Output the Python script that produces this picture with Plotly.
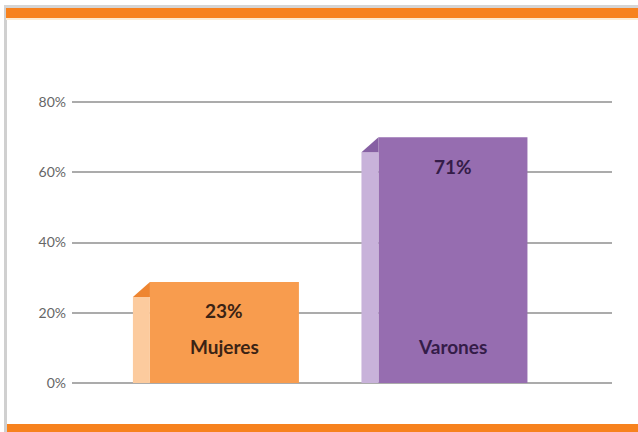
import plotly.graph_objects as go

categories = ["Mujeres", "Varones"]
bar_heights = [28.75, 70.0]        # front-face height (%)
value_labels = ["23%", "71%"]
tick_vals = [0, 20, 40, 60, 80]
tick_text = ["0%", "20%", "40%", "60%", "80%"]

front_colors = ["#F89C4E", "#966DB0"]
side_colors = ["#FCCB9E", "#C8B2DA"]
corner_colors = ["#EE8530", "#8660A3"]
text_colors = ["#3B2314", "#341C48"]

# layout geometry (pixel positions of y=-2 .. y=82)
W, H = 638, 432
y_lo, y_hi = -2, 82
px_per_y = (383 - 102) / 80
T = 102 - (y_hi - 80) * px_per_y
B = H - (383 + (0 - y_lo) * px_per_y)
L, R = 72, 26
plot_w = W - L - R
plot_h = H - T - B
x0, x1 = -0.667, 1.696
px_per_x = plot_w / (x1 - x0)
front_w = 149 / px_per_x
side_w = 17 / px_per_x
depth = 15 / px_per_y

xs = list(range(len(categories)))
fig = go.Figure()

# front faces
fig.add_trace(go.Bar(x=xs, y=bar_heights, width=front_w,
                     marker=dict(color=front_colors, line=dict(width=0)),
                     hoverinfo="skip", showlegend=False))
# side faces
side_x = [x - front_w / 2 - side_w / 2 for x in xs]
side_h = [h - depth for h in bar_heights]
fig.add_trace(go.Bar(x=side_x, y=side_h, width=side_w,
                     marker=dict(color=side_colors, line=dict(width=0)),
                     hoverinfo="skip", showlegend=False))
# corner triangles
for i, x in enumerate(xs):
    xl = x - front_w / 2 - side_w
    xr = x - front_w / 2
    fig.add_trace(go.Scatter(x=[xl, xr, xr, xl], y=[side_h[i], bar_heights[i], side_h[i], side_h[i]],
                             mode="lines", fill="toself", fillcolor=corner_colors[i],
                             line=dict(width=0), hoverinfo="skip", showlegend=False))

# labels
for i, x in enumerate(xs):
    top_label_y = 20.5 if i == 0 else bar_heights[i] - 8.5
    fig.add_annotation(x=x, y=top_label_y, text="<b>%s</b>" % value_labels[i], showarrow=False,
                       font=dict(size=19, color=text_colors[i], family="Lato"))
    fig.add_annotation(x=x, y=10.5, text="<b>%s</b>" % categories[i], showarrow=False,
                       font=dict(size=19, color=text_colors[i], family="Lato"))

def py(p):
    return (H - B - p) / plot_h

def pxx(p):
    return (p - L) / plot_w

shapes = [
    # frame shadow
    dict(type="rect", xref="paper", yref="paper", x0=pxx(4), x1=pxx(7), y0=py(432), y1=py(6),
         fillcolor="#d0d0d0", line=dict(width=0), layer="below"),
    dict(type="rect", xref="paper", yref="paper", x0=pxx(4), x1=pxx(638), y0=py(8), y1=py(5),
         fillcolor="#d5d5d5", line=dict(width=0), layer="below"),
    # top orange band
    dict(type="rect", xref="paper", yref="paper", x0=pxx(6), x1=pxx(638), y0=py(18), y1=py(8),
         fillcolor="#F7821E", line=dict(width=0)),
    dict(type="rect", xref="paper", yref="paper", x0=pxx(6), x1=pxx(638), y0=py(20), y1=py(18),
         fillcolor="#FDEBD2", line=dict(width=0)),
    # bottom orange band
    dict(type="rect", xref="paper", yref="paper", x0=pxx(7), x1=pxx(638), y0=py(432), y1=py(424),
         fillcolor="#F7821E", line=dict(width=0)),
]

fig.update_layout(
    width=W, height=H,
    margin=dict(l=L, r=R, t=T, b=B),
    paper_bgcolor="white", plot_bgcolor="white",
    barmode="overlay",
    shapes=shapes,
    xaxis=dict(range=[x0, x1], showgrid=False, showticklabels=False, zeroline=False,
               showline=False, ticks="", fixedrange=True),
    yaxis=dict(range=[y_lo, y_hi], tickvals=tick_vals, ticktext=tick_text,
               showgrid=True, gridcolor="#ababab", gridwidth=1.5, zeroline=False,
               showline=False, ticks="", ticklabelstandoff=5,
               tickfont=dict(family="Lato", size=14, color="#666666"), fixedrange=True),
)

fig.write_html("out.html", config={"displayModeBar": False},
               post_script="document.body.style.margin='0';document.body.style.overflow='hidden';")
